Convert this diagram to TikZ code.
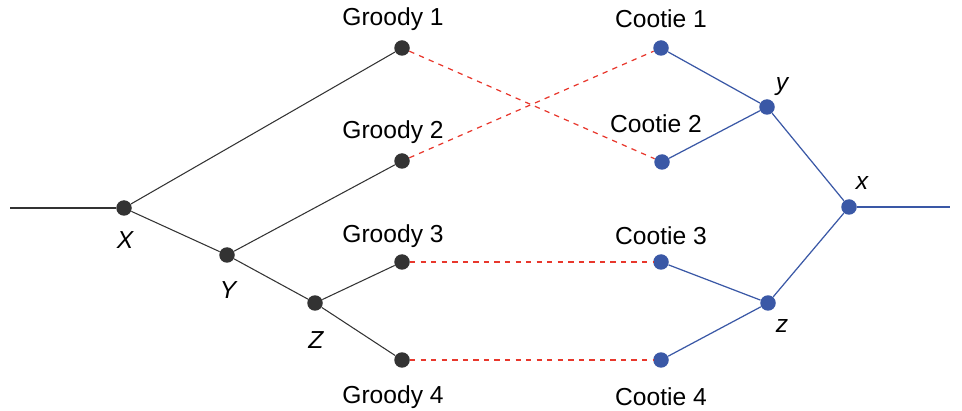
\documentclass[tikz,border=0pt]{standalone}
\usepackage{fontspec}
\setmainfont{Liberation Sans}
\definecolor{gdot}{HTML}{333333}
\definecolor{cblue}{HTML}{3A58A6}
\definecolor{lred}{HTML}{E8372C}
\tikzset{
  gnode/.style={circle,fill=gdot,inner sep=0pt,minimum size=0.31cm},
  cnode/.style={circle,fill=cblue,inner sep=0pt,minimum size=0.31cm},
  lab/.style={font=\fontsize{14}{16}\selectfont},
  vlab/.style={font=\fontsize{14}{16}\selectfont\itshape},
  gline/.style={draw=gdot,line width=0.6pt},
  cline/.style={draw=cblue,line width=0.7pt},
  pair/.style={draw=lred,dashed,line width=0.7pt}
}
\begin{document}
\begin{tikzpicture}[x=0.02cm,y=-0.02cm]
\useasboundingbox (0,0) rectangle (962,411);
% groody side
\coordinate (lend) at (10,208);
\node[gnode] (X) at (124,208) {};
\node[gnode] (Y) at (227,255) {};
\node[gnode] (Z) at (315,303) {};
\node[gnode] (g1) at (402,48) {};
\node[gnode] (g2) at (402,161) {};
\node[gnode] (g3) at (402,262) {};
\node[gnode] (g4) at (402,360) {};
\draw[gline] (lend) -- (X);
\draw[gline] (X) -- (g1);
\draw[gline] (X) -- (Y);
\draw[gline] (Y) -- (g2);
\draw[gline] (Y) -- (Z);
\draw[gline] (Z) -- (g3);
\draw[gline] (Z) -- (g4);
% cootie side
\coordinate (rend) at (950,207);
\node[cnode] (c1) at (661,48) {};
\node[cnode] (c2) at (662,162) {};
\node[cnode] (c3) at (661,262) {};
\node[cnode] (c4) at (661,360) {};
\node[cnode] (cy) at (767,107) {};
\node[cnode] (cz) at (768,303) {};
\node[cnode] (cx) at (849,207) {};
\draw[cline] (c1) -- (cy);
\draw[cline] (c2) -- (cy);
\draw[cline] (c3) -- (cz);
\draw[cline] (c4) -- (cz);
\draw[cline] (cy) -- (cx);
\draw[cline] (cz) -- (cx);
\draw[cline] (cx) -- (rend);
% pairings
\draw[pair] (g1) -- (c2);
\draw[pair] (g2) -- (c1);
\draw[pair] (g3) -- (c3);
\draw[pair] (g4) -- (c4);
% labels
\node[lab] (tg1) at (393,19) {Groody 1};
\node[lab] (tg2) at (393,132) {Groody 2};
\node[lab] (tg3) at (393,236) {Groody 3};
\node[lab] (tg4) at (393,397) {Groody 4};
\node[lab] (tc1) at (661,19) {Cootie 1};
\node[lab] (tc2) at (656,124) {Cootie 2};
\node[lab] (tc3) at (661,236) {Cootie 3};
\node[lab] (tc4) at (661,397) {Cootie 4};
\node[vlab] (tX) at (125,240) {X};
\node[vlab] (tY) at (228,290) {Y};
\node[vlab] (tZ) at (316,340) {Z};
\node[vlab] (ty) at (782,87) {y};
\node[vlab] (tx) at (862,183) {x};
\node[vlab] (tz) at (782,326) {z};
\end{tikzpicture}
\end{document}
